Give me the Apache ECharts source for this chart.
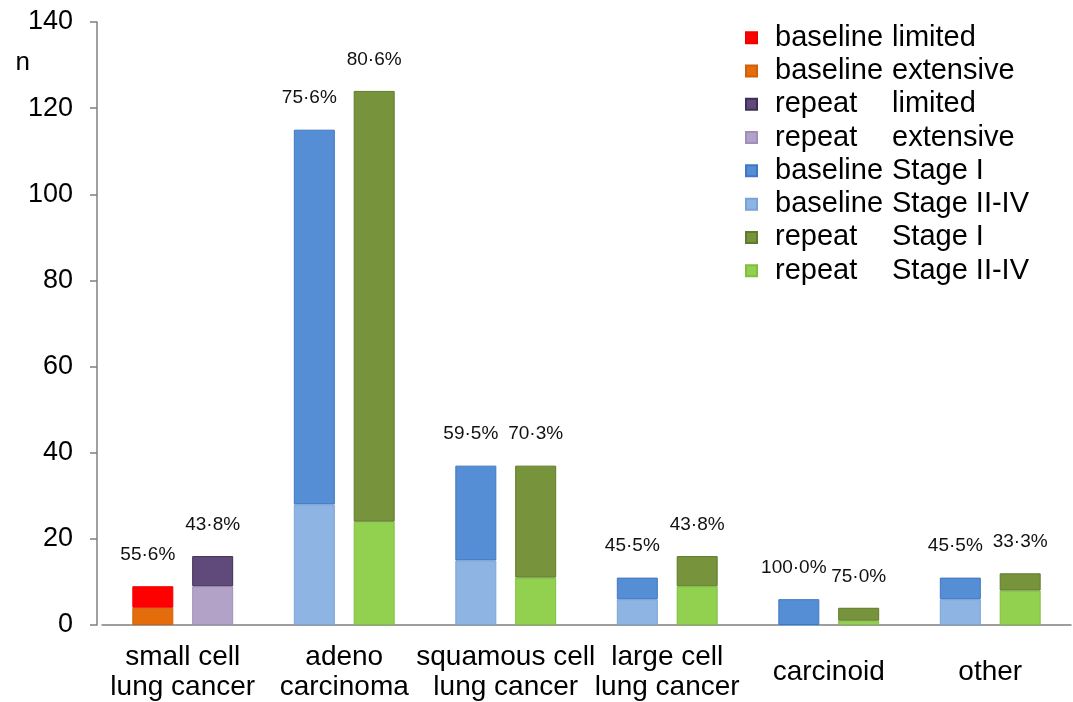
<!DOCTYPE html>
<html>
<head>
<meta charset="utf-8">
<script src="https://cdn.jsdelivr.net/npm/echarts@6/dist/echarts.min.js"></script>
<style>html,body{margin:0;padding:0;background:#fff;}#chart{width:1073px;height:702px;}</style>
</head>
<body>
<div id="chart"></div>
<script>
const categories = ['small cell\nlung cancer', 'adeno\ncarcinoma', 'squamous cell\nlung cancer', 'large cell\nlung cancer', 'carcinoid', 'other'];
const yTicks = [0, 20, 40, 60, 80, 100, 120, 140];

const baselineLimited   = [5, '-', '-', '-', '-', '-'];
const baselineExtensive = [4, '-', '-', '-', '-', '-'];
const repeatLimited     = [7, '-', '-', '-', '-', '-'];
const repeatExtensive   = [9, '-', '-', '-', '-', '-'];
const baselineStageI    = ['-', 87, 22, 5, 6, 5];
const baselineStageIIIV = ['-', 28, 15, 6, 0, 6];
const repeatStageI      = ['-', 100, 26, 7, 3, 4];
const repeatStageIIIV   = ['-', 24, 11, 9, 1, 8];

const pctBaseline = ['55·6%', '75·6%', '59·5%', '45·5%', '100·0%', '45·5%'];
const pctRepeat   = ['43·8%', '80·6%', '70·3%', '43·8%', '75·0%', '33·3%'];

const legendOrder = ['baseline limited', 'baseline extensive', 'repeat limited', 'repeat extensive',
  'baseline Stage I', 'baseline Stage II-IV', 'repeat Stage I', 'repeat Stage II-IV'];

const FONT = 'Liberation Sans, Arial, sans-serif';
const chart = echarts.init(document.getElementById('chart'));

function pctLabel(arr, dx) {
  return {
    show: true, position: 'top', distance: 22, offset: [dx, 0],
    fontFamily: FONT, fontSize: 19, color: '#111',
    formatter: p => arr[p.dataIndex]
  };
}
function bar(name, stack, data, color, border, label) {
  const s = {
    name, type: 'bar', stack, data,
    barWidth: 41, barGap: '46%',
    itemStyle: { color, borderColor: border, borderWidth: 1 },
    emphasis: { disabled: true }
  };
  if (label) s.label = label;
  return s;
}

chart.setOption({
  animation: false,
  backgroundColor: '#fff',
  textStyle: { fontFamily: FONT },
  grid: { left: 102, right: 2, top: 22, bottom: 76 },
  legend: {
    orient: 'vertical', left: 740, top: 16,
    data: legendOrder,
    icon: 'rect', itemWidth: 11, itemHeight: 11, itemGap: 0,
    textStyle: {
      fontFamily: FONT, fontSize: 29, color: '#000', lineHeight: 33.3,
      rich: {
        s: { width: 13, fontSize: 29, lineHeight: 33.3 },
        a: { width: 117, fontSize: 29, lineHeight: 33.3, fontFamily: FONT, color: '#000' },
        b: { fontSize: 29, lineHeight: 33.3, fontFamily: FONT, color: '#000' }
      }
    },
    formatter: name => {
      const i = name.indexOf(' ');
      return '{s| }{a|' + name.slice(0, i) + '}{b|' + name.slice(i + 1) + '}';
    }
  },
  xAxis: {
    type: 'category', data: categories,
    axisLine: { lineStyle: { color: '#7f7f7f', width: 1.5 } },
    axisTick: { show: false },
    axisLabel: {
      interval: 0, fontFamily: FONT, fontSize: 28, color: '#000',
      lineHeight: 30, verticalAlign: 'middle', margin: 47
    }
  },
  yAxis: {
    type: 'value', min: yTicks[0], max: yTicks[yTicks.length - 1], interval: 20,
    offset: 5,
    name: 'n', nameLocation: 'end', nameGap: -41,
    nameTextStyle: { fontFamily: FONT, fontSize: 26, color: '#000', align: 'right', verticalAlign: 'middle', padding: [0, 67, 0, 0] },
    splitLine: { show: false },
    axisLine: { show: true, lineStyle: { color: '#7f7f7f', width: 1.5 } },
    axisTick: { show: true, length: 7, lineStyle: { color: '#7f7f7f', width: 1.5 } },
    axisLabel: { fontFamily: FONT, fontSize: 27, color: '#000', margin: 24 }
  },
  series: [
    bar('baseline extensive', 'baseline', baselineExtensive, '#E46C0A', '#D0600A'),
    bar('baseline limited', 'baseline', baselineLimited, '#FF0000', '#F00000', pctLabel(pctBaseline, -5)),
    bar('baseline Stage II-IV', 'baseline', baselineStageIIIV, '#8DB4E2', '#7AA3D6'),
    bar('baseline Stage I', 'baseline', baselineStageI, '#558ED5', '#3F78C2', pctLabel(pctBaseline, -5)),
    bar('repeat extensive', 'repeat', repeatExtensive, '#B3A2C7', '#A08FB8'),
    bar('repeat limited', 'repeat', repeatLimited, '#604A7B', '#3F2F55', pctLabel(pctRepeat, 0)),
    bar('repeat Stage II-IV', 'repeat', repeatStageIIIV, '#92D050', '#7FBF40'),
    bar('repeat Stage I', 'repeat', repeatStageI, '#77933C', '#5F7A2C', pctLabel(pctRepeat, 0))
  ]
});
</script>
</body>
</html>
